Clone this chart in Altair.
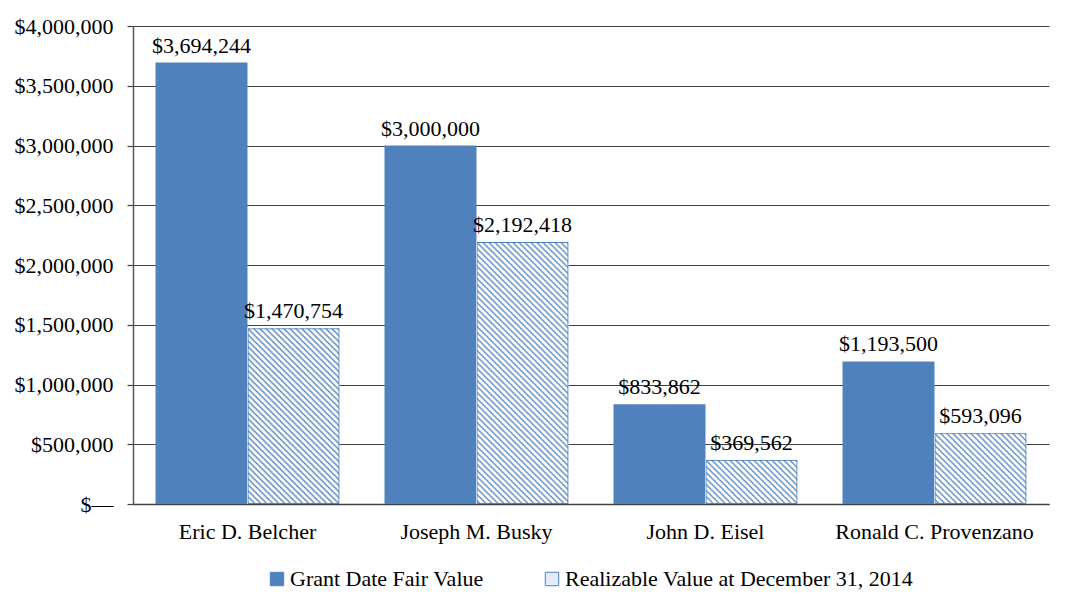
import base64
import altair as alt
import pandas as pd

# ---- data ----
names = ["Eric D. Belcher", "Joseph M. Busky", "John D. Eisel", "Ronald C. Provenzano"]
grant_values = [3694244, 3000000, 833862, 1193500]
realizable_values = [1470754, 2192418, 369562, 593096]
series_names = ["Grant Date Fair Value", "Realizable Value at December 31, 2014"]
y_ticks = [0, 500000, 1000000, 1500000, 2000000, 2500000, 3000000, 3500000, 4000000]

rows = []
for n, g, r in zip(names, grant_values, realizable_values):
    rows.append({"name": n, "series": series_names[0], "value": g})
    rows.append({"name": n, "series": series_names[1], "value": r})
df = pd.DataFrame(rows)

# ---- style ----
FONT = "Liberation Serif"
FS = 22
BLUE = "#4f81bd"
W, H = 916, 478
YMAX = 4000000
PI = 0.1965
PO = PI / 2
step = W / (len(names) - PI + 2 * PO)
bar_w = step * (1 - PI) / 2


def hatch_url(h, w=bar_w, p=6, color=BLUE):
    """SVG data-URL image filled with a diagonal hatch pattern and a thin outline."""
    svg = (
        f'<svg xmlns="http://www.w3.org/2000/svg" width="{w:.2f}" height="{h:.2f}">'
        f'<defs><pattern id="p" patternUnits="userSpaceOnUse" width="{p}" height="{p}">'
        f'<rect width="{p}" height="{p}" fill="#ffffff"/>'
        f'<path d="M-1,-1 L{p+1},{p+1} M-1,{p-1} L1,{p+1} M{p-1},-1 L{p+1},1" '
        f'stroke="{color}" stroke-width="1.3"/></pattern></defs>'
        f'<rect width="100%" height="100%" fill="url(#p)"/>'
        f'<rect x="0.5" y="0.5" width="{w-1:.2f}" height="{h-1:.2f}" fill="none" '
        f'stroke="{color}" stroke-width="1"/></svg>'
    )
    return "data:image/svg+xml;base64," + base64.b64encode(svg.encode()).decode()


x_enc = alt.X(
    "name:N",
    sort=names,
    scale=alt.Scale(paddingInner=PI, paddingOuter=PO),
    axis=alt.Axis(
        title=None, labelAngle=0, ticks=False, tickSize=0, labelPadding=34,
        labelBaseline="alphabetic", labelFontSize=FS, labelColor="#000000", labelLimit=400,
        domainColor="#404040", domainWidth=1.5, grid=False,
    ),
)
xo_enc = alt.XOffset("series:N", sort=series_names,
                     scale=alt.Scale(domain=series_names, paddingInner=0, paddingOuter=0))
y_enc = alt.Y(
    "value:Q",
    scale=alt.Scale(domain=[0, YMAX], nice=False),
    axis=alt.Axis(
        title=None, values=y_ticks, grid=True, gridColor="#404040", gridWidth=1.2,
        tickSize=6, tickColor="#404040", tickWidth=1.2, labelPadding=14,
        labelFontSize=FS, labelColor="#000000", domainColor="#595959", domainWidth=1.5,
        labelExpr="datum.value === 0 ? '$\u2014' : '$' + format(datum.value, ',')",
    ),
)

base = alt.Chart(df).mark_bar(strokeWidth=0).encode(
    x=x_enc,
    xOffset=xo_enc,
    y=y_enc,
    color=alt.Color(
        "series:N",
        sort=series_names,
        scale=alt.Scale(domain=series_names, range=[BLUE, "#e4ecf5"]),
        legend=alt.Legend(
            title=None, orient="none", direction="horizontal", legendX=133, legendY=542,
            symbolType="square", symbolSize=180, symbolStrokeColor=BLUE, symbolStrokeWidth=1,
            labelFontSize=FS, labelFont=FONT, labelColor="#000000", labelOffset=2,
            columnPadding=57, padding=0, labelLimit=500,
        ),
    ),
)

layers = [base]
for n, r in zip(names, realizable_values):
    h = r / YMAX * H
    layers.append(
        alt.Chart(df)
        .transform_filter((alt.datum.name == n) & (alt.datum.series == series_names[1]))
        .mark_image(url=hatch_url(h), aspect=False)
        .encode(
            x=alt.X("name:N", sort=names),
            xOffset=alt.XOffset("series:N", sort=series_names),
            y="value:Q",
            y2=alt.datum(0),
        )
    )

labels = alt.Chart(df).mark_text(
    baseline="alphabetic", dy=-10, fontSize=FS, font=FONT, color="#000000"
).encode(
    x=alt.X("name:N", sort=names),
    xOffset=alt.XOffset("series:N", sort=series_names),
    y="value:Q",
    text=alt.Text("value:Q", format="$,.0f"),
)
layers.append(labels)

chart = (
    alt.layer(*layers)
    .properties(
        width=W, height=H,
        autosize=alt.AutoSizeParams(type="none"),
        padding={"left": 125, "top": 18, "right": 12, "bottom": 90},
        background="#ffffff",
    )
    .configure(font=FONT)
    .configure_view(stroke=None)
    .configure_axis(labelFont=FONT)
)

chart.save("out.html", embed_options={"renderer": "svg", "actions": False})
